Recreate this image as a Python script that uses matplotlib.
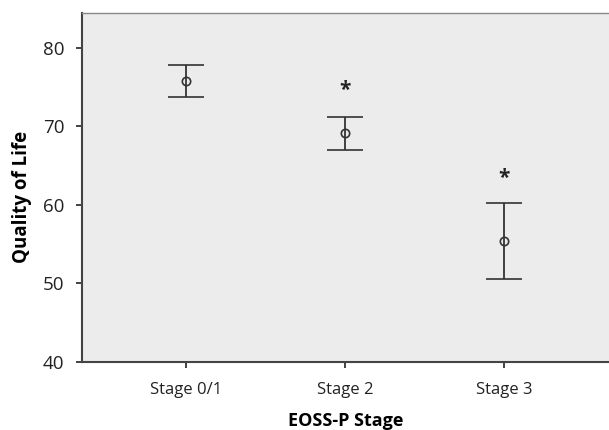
import numpy as np
import matplotlib
matplotlib.use("Agg")
import matplotlib.pyplot as plt

plt.rcParams["font.family"] = ["Open Sans", "DejaVu Sans"]

stages = ["Stage 0/1", "Stage 2", "Stage 3"]
means = [75.7, 69.1, 55.35]
upper = [77.8, 71.2, 60.2]
lower = [73.65, 67.0, 50.5]
star_y = [None, 74.6, 63.4]

fig = plt.figure(figsize=(6.09, 4.30), dpi=100)
ax = fig.add_axes([0.134, 0.158, 0.866, 0.812])
ax.set_facecolor("#ececec")

x = np.arange(len(stages))
means = np.array(means)
yerr = np.array([means - np.array(lower), np.array(upper) - means])
ax.errorbar(x, means, yerr=yerr, fmt="o", mfc="none", mec="#333333", ms=6,
            mew=1.2, ecolor="#333333", elinewidth=1.3, capsize=13, capthick=1.3)

for xi, sy in zip(x, star_y):
    if sy is not None:
        ax.text(xi, sy, "*", ha="center", va="center", fontsize=15,
                fontweight="bold", color="#222222")

ax.set_xlim(-0.66, 2.66)
ax.set_ylim(40, 84.4)
ax.set_yticks([40, 50, 60, 70, 80])
ax.set_xticks(x)
ax.set_xticklabels(stages)
ax.tick_params(colors="#222222", length=4.5, width=1.2)
ax.tick_params(axis="x", labelsize=12, pad=10)
ax.tick_params(axis="y", labelsize=13.5, pad=8)

for s in ["left", "bottom"]:
    ax.spines[s].set_color("#444444")
    ax.spines[s].set_linewidth(1.5)
ax.spines["top"].set_color("#888888")
ax.spines["top"].set_linewidth(1.0)
ax.spines["right"].set_visible(False)

ax.set_ylabel("Quality of Life", fontsize=13.5, fontweight="bold")
ax.yaxis.set_label_coords(-0.095, 0.473)
ax.set_xlabel("EOSS-P Stage", fontsize=13, fontweight="bold", labelpad=10)

fig.savefig("out.png", dpi=100)
